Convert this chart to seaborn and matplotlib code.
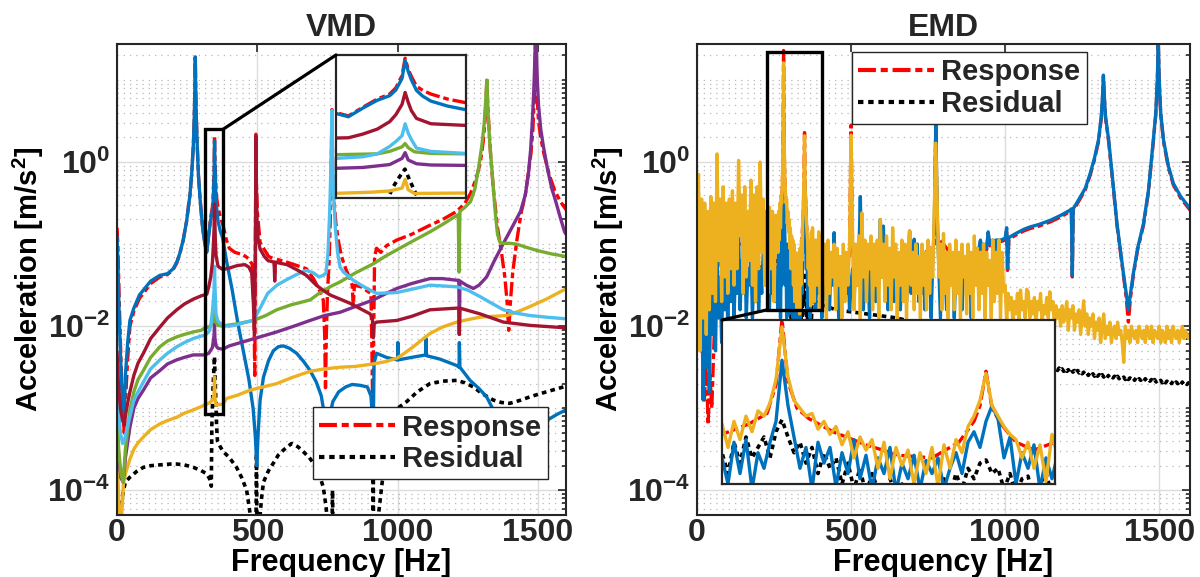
import numpy as np
import matplotlib
matplotlib.use("Agg")
import matplotlib.pyplot as plt
import seaborn as sns
from matplotlib.ticker import FixedLocator, LogLocator, FuncFormatter, NullFormatter, NullLocator
from matplotlib.patches import Rectangle, ConnectionPatch

# ---------------------------------------------------------------- axes data
titles = ["VMD", "EMD"]
legend_labels = ["Response", "Residual"]
x_ticks = [0, 500, 1000, 1500]
y_major = [1e-4, 1e-2, 1e0]
x_range = (0, 1600)
y_range = (5e-5, 27.5)

# zoom windows (frequency span, amplitude span)
vmd_zoom = (314, 377, 8.5e-4, 2.5)
emd_zoom_box = (227, 406, 0.0158, 21.9)
emd_zoom_view = (261, 372, 10 ** -1.8, 10 ** 1.34)

# ---------------------------------------------------------------- VMD spectra (log10 amplitude)
vmd_resp_f = [0, 3, 8, 14, 20, 26, 32, 38, 46, 60,
              80, 94, 120, 153, 180, 200, 213, 225, 236, 248,
              260, 266, 272, 275, 277, 278, 279, 280, 281, 283,
              286, 290, 296, 305, 314, 320, 327, 334, 340, 343,
              346, 347.5, 349, 350.5, 353, 356, 360, 368, 377, 390,
              400, 420, 450, 470, 482, 488, 491, 494, 495, 496.5,
              500, 510, 524, 540, 560, 562, 564, 606, 640, 675,
              700, 720, 735, 740, 743, 746, 750, 756, 760, 763,
              765, 766, 767, 769, 773, 780, 790, 800, 815, 830,
              838, 842, 846, 870, 895, 905, 909, 912, 915, 918,
              925, 940, 960, 997, 1050, 1115, 1160, 1211, 1240, 1260,
              1280, 1295, 1305, 1311, 1315, 1318, 1321, 1325, 1332, 1342,
              1356, 1370, 1382, 1390, 1396, 1402, 1410, 1425, 1440, 1455,
              1465, 1475, 1482, 1487, 1490, 1492, 1494, 1497, 1502, 1510,
              1520, 1540, 1560, 1580, 1600]
vmd_resp_lg = [-0.8, -1.0, -1.7, -2.4, -3.0, -3.3, -2.8, -2.4, -2.0, -1.82,
               -1.66, -1.6, -1.48, -1.4, -1.37, -1.31, -1.23, -1.1, -0.95, -0.72,
               -0.4, -0.15, 0.2, 0.5, 0.8, 1.0, 1.28, 1.0, 0.8, 0.5,
               0.2, -0.15, -0.45, -0.8, -1.0, -1.08, -0.87, -0.67, -0.55, -0.4,
               -0.1, 0.32, 0.05, -0.12, -0.36, -0.46, -0.55, -0.67, -0.76, -0.95,
               -1.05, -1.1, -1.13, -1.18, -1.25, -1.8, -2.6, -0.5, 0.34, -0.2,
               -0.6, -0.98, -1.06, -1.15, -1.18, -1.35, -1.18, -1.22, -1.26, -1.3,
               -1.42, -1.55, -1.68, -2.1, -2.75, -2.1, -1.6, -1.2, -0.7, -0.2,
               0.3, 0.64, 0.3, -0.1, -0.45, -0.75, -0.98, -1.15, -1.3, -1.42,
               -1.5, -1.75, -1.5, -1.52, -1.58, -1.6, -2.4, -3.4, -2.0, -1.15,
               -1.05, -1.1, -1.02, -0.95, -0.88, -0.77, -0.7, -0.6, -0.5, -0.38,
               -0.2, 0.0, 0.25, 0.5, 0.75, 1.02, 0.7, 0.45, 0.05, -0.36,
               -0.8, -1.1, -1.4, -1.7, -2.05, -1.7, -1.35, -0.95, -0.62, -0.4,
               -0.15, 0.1, 0.4, 0.8, 1.2, 1.6, 1.2, 0.8, 0.5, 0.3,
               0.12, -0.15, -0.35, -0.48, -0.58]

vmd_resid_f = [0, 10, 18, 23, 30, 46, 70, 94, 120, 153,
               190, 213, 240, 272, 300, 320, 330, 336, 338, 341.8,
               345, 347.4, 349.9, 352.3, 354.7, 358, 368, 379, 400, 426,
               445, 462, 475, 485, 495, 497, 499, 505, 515, 522,
               540, 557, 575, 593, 622, 645, 664, 685, 700, 720,
               735, 745, 755, 766, 768, 770, 900, 912, 913, 914,
               925, 945, 965, 987, 1000, 1032, 1070, 1115, 1160, 1211,
               1240, 1270, 1300, 1341, 1370, 1400, 1440, 1472, 1530, 1591,
               1600]
vmd_resid_lg = [-4.5, -4.4, -4.1, -4.0, -3.9, -3.84, -3.77, -3.72, -3.7, -3.69,
                -3.68, -3.68, -3.69, -3.72, -3.76, -3.8, -3.86, -3.95, -3.2, -2.79,
                -2.54, -2.37, -2.66, -2.92, -3.2, -3.4, -3.47, -3.53, -3.6, -3.72,
                -3.85, -4.0, -4.3, -4.6, -4.6, -3.55, -4.6, -4.5, -4.1, -3.9,
                -3.76, -3.67, -3.57, -3.51, -3.43, -3.47, -3.53, -3.6, -3.67, -3.8,
                -3.96, -4.2, -4.6, -4.6, -4.0, -4.6, -4.6, -4.6, -3.3, -4.6,
                -4.5, -3.9, -3.5, -3.16, -3.0, -2.92, -2.8, -2.70, -2.67, -2.66,
                -2.69, -2.74, -2.82, -2.90, -2.93, -2.94, -2.9, -2.86, -2.8, -2.74,
                -2.73]

vmd_m1_f = [0, 3, 8, 14, 20, 25, 30, 38, 46, 60,
            80, 94, 120, 153, 180, 200, 213, 225, 236, 248,
            260, 266, 272, 275, 277, 278, 279, 280, 281, 283,
            286, 290, 296, 305, 314, 320, 327, 334, 340, 343,
            346, 347.5, 349, 350.5, 353, 356, 360, 368, 377, 390,
            410, 430, 450, 470, 485, 493, 498, 503, 510, 522,
            540, 557, 575, 593, 615, 640, 665, 688, 710, 728,
            740, 746, 749, 752, 758, 769, 790, 815, 838, 865,
            892, 905, 910, 913, 916, 925, 960, 997, 1000, 1001,
            1003, 1050, 1100, 1101, 1103, 1150, 1211, 1219, 1220, 1222,
            1240, 1258, 1290, 1317, 1329, 1360, 1390, 1420, 1450, 1480,
            1510, 1531, 1565, 1600]
vmd_m1_lg = [-0.9, -1.2, -1.9, -2.5, -3.0, -3.15, -2.6, -2.2, -1.93, -1.78,
             -1.62, -1.56, -1.45, -1.38, -1.36, -1.3, -1.22, -1.1, -0.95, -0.72,
             -0.4, -0.15, 0.2, 0.5, 0.8, 1.0, 1.28, 1.0, 0.8, 0.5,
             0.2, -0.15, -0.45, -0.8, -1.02, -1.1, -0.89, -0.7, -0.59, -0.45,
             -0.17, 0.26, 0.0, -0.2, -0.46, -0.6, -0.72, -0.84, -0.93, -1.2,
             -1.55, -1.95, -2.3, -2.65, -3.0, -3.35, -3.7, -3.3, -2.9, -2.62,
             -2.42, -2.3, -2.25, -2.24, -2.27, -2.33, -2.43, -2.54, -2.68, -2.85,
             -3.1, -3.4, -3.8, -3.4, -3.1, -2.92, -2.8, -2.74, -2.71, -2.72,
             -2.74, -2.85, -3.1, -3.3, -2.45, -2.33, -2.38, -2.41, -2.41, -2.2,
             -2.41, -2.38, -2.35, -2.15, -2.36, -2.4, -2.48, -2.5, -2.2, -2.5,
             -2.58, -2.66, -2.76, -2.86, -2.94, -3.15, -3.4, -3.6, -3.5, -3.35,
             -3.22, -3.15, -3.08, -3.02]

vmd_m2_f = [0, 4, 9, 15, 23, 30, 46, 60, 75, 94,
            120, 153, 180, 213, 240, 272, 300, 331, 340, 346,
            347.5, 349, 352, 377, 391, 430, 474, 520, 569, 620,
            688, 740, 795, 850, 913, 960, 997, 1020, 1056, 1085,
            1115, 1160, 1211, 1250, 1294, 1340, 1389, 1430, 1472, 1530,
            1591, 1600]
vmd_m2_lg = [-3.45, -3.9, -4.4, -4.4, -3.92, -3.8, -3.62, -3.5, -3.42, -3.35,
             -3.26, -3.19, -3.15, -3.11, -3.06, -3.02, -2.98, -2.93, -2.9, -2.83,
             -2.62, -2.87, -2.96, -2.95, -2.88, -2.84, -2.78, -2.74, -2.70, -2.63,
             -2.55, -2.52, -2.50, -2.49, -2.46, -2.43, -2.39, -2.34, -2.25, -2.17,
             -2.09, -2.01, -1.95, -1.92, -1.89, -1.88, -1.87, -1.82, -1.76, -1.67,
             -1.56, -1.55]

vmd_m3_f = [0, 6, 14, 22, 30, 46, 60, 75, 94, 120,
            153, 180, 213, 240, 272, 314, 327, 340, 346, 347.5,
            349, 353, 360, 377, 400, 450, 510, 569, 630, 688,
            740, 795, 850, 913, 960, 997, 1050, 1115, 1160, 1211,
            1218, 1220, 1222, 1245, 1270, 1290, 1317, 1345, 1377, 1410,
            1438, 1455, 1466, 1474, 1480, 1485, 1488, 1490, 1492, 1494,
            1497, 1502, 1510, 1520, 1535, 1550, 1561, 1580, 1595, 1600]
vmd_m3_lg = [-3.3, -3.6, -3.85, -3.9, -3.6, -3.23, -3.0, -2.88, -2.78, -2.63,
             -2.54, -2.46, -2.41, -2.38, -2.35, -2.35, -2.33, -2.26, -2.11, -1.97,
             -2.15, -2.24, -2.27, -2.28, -2.24, -2.19, -2.13, -2.07, -2.0, -1.93,
             -1.87, -1.83, -1.76, -1.68, -1.6, -1.54, -1.48, -1.42, -1.42, -1.44,
             -1.44, -2.1, -1.45, -1.5, -1.54, -1.5, -1.40, -1.2, -0.99, -0.78,
             -0.6, -0.4, -0.15, 0.15, 0.5, 0.85, 1.15, 1.4, 1.7, 1.4,
             1.05, 0.7, 0.4, 0.18, -0.1, -0.33, -0.45, -0.68, -0.85, -0.88]

vmd_m4_f = [0, 6, 14, 22, 30, 46, 60, 75, 94, 120,
            153, 180, 213, 240, 272, 300, 314, 334, 340, 346,
            347.5, 349, 352, 360, 377, 391, 430, 486, 530, 569,
            620, 688, 720, 759, 795, 850, 913, 960, 997, 1050,
            1115, 1160, 1211, 1216, 1219, 1222, 1240, 1260, 1275, 1288,
            1300, 1308, 1313, 1316, 1318, 1320, 1323, 1328, 1335, 1342,
            1349, 1356, 1365, 1377, 1400, 1424, 1460, 1500, 1550, 1600]
vmd_m4_lg = [-3.0, -3.5, -3.8, -3.9, -3.5, -3.02, -2.8, -2.65, -2.54, -2.38,
             -2.25, -2.18, -2.13, -2.1, -2.07, -2.05, -2.02, -2.0, -1.94, -1.83,
             -1.75, -1.85, -1.95, -1.99, -2.0, -1.99, -1.97, -1.93, -1.87, -1.8,
             -1.74, -1.68, -1.6, -1.52, -1.46, -1.35, -1.24, -1.14, -1.07, -0.97,
             -0.85, -0.76, -0.65, -0.64, -1.34, -0.6, -0.55, -0.48, -0.33, -0.08,
             0.2, 0.45, 0.7, 0.88, 1.0, 0.8, 0.55, 0.25, -0.05, -0.36,
             -0.65, -0.88, -0.98, -0.99, -0.99, -1.0, -1.04, -1.08, -1.12, -1.15]

vmd_m5_f = [0, 5, 12, 20, 26, 32, 46, 60, 75, 94,
            120, 153, 180, 213, 240, 272, 300, 314, 327, 334,
            340, 343, 346, 347.5, 349, 350.5, 353, 360, 377, 400,
            430, 460, 486, 510, 537, 570, 606, 640, 674, 700,
            720, 735, 745, 752, 758, 762, 764, 766, 768, 772,
            778, 786, 795, 807, 842, 870, 902, 925, 997, 1050,
            1115, 1211, 1250, 1294, 1340, 1377, 1420, 1472, 1530, 1600]
vmd_m5_lg = [-2.7, -3.0, -3.3, -3.43, -3.4, -3.3, -3.1, -2.9, -2.8, -2.68,
             -2.52, -2.41, -2.33, -2.25, -2.2, -2.15, -2.12, -2.11, -2.07, -2.0,
             -1.82, -1.7, -1.56, -1.27, -1.5, -1.65, -1.86, -1.94, -1.99, -2.0,
             -1.98, -1.95, -1.93, -1.78, -1.6, -1.5, -1.43, -1.37, -1.32, -1.35,
             -1.4, -1.38, -1.35, -1.1, -0.6, -0.1, 0.25, 0.63, 0.1, -0.4,
             -0.8, -1.1, -1.28, -1.34, -1.44, -1.5, -1.56, -1.6, -1.59, -1.55,
             -1.5, -1.52, -1.56, -1.64, -1.73, -1.8, -1.84, -1.87, -1.89, -1.91]

vmd_m6_f = [0, 5, 12, 20, 26, 32, 40, 46, 60, 75,
            94, 120, 153, 180, 213, 240, 272, 300, 320, 327,
            334, 340, 343, 346, 347.5, 349, 350.5, 353, 360, 377,
            401, 430, 456, 470, 480, 486, 490, 492, 494, 495,
            496.5, 499, 503, 510, 525, 538, 560, 562, 564, 606,
            640, 675, 710, 742, 760, 830, 902, 910, 913, 916,
            925, 997, 1050, 1115, 1211, 1218, 1220, 1222, 1294, 1377,
            1472, 1600]
vmd_m6_lg = [-2.3, -2.7, -3.0, -3.15, -3.2, -3.05, -2.9, -2.8, -2.6, -2.45,
             -2.33, -2.15, -2.01, -1.9, -1.8, -1.73, -1.67, -1.63, -1.61, -1.52,
             -1.4, -1.22, -1.05, -0.8, -0.51, -0.75, -0.95, -1.14, -1.27, -1.31,
             -1.29, -1.26, -1.25, -1.28, -1.35, -1.72, -2.1, -1.5, -0.5, 0.32,
             -0.3, -0.7, -0.95, -1.06, -1.15, -1.2, -1.22, -1.45, -1.22, -1.25,
             -1.31, -1.38, -1.5, -1.58, -1.62, -1.72, -1.85, -1.9, -2.14, -1.97,
             -1.95, -1.93, -1.88, -1.80, -1.78, -1.78, -2.1, -1.78, -1.85, -1.95,
             -1.99, -2.02]

# ---------------------------------------------------------------- EMD spectra (log10 amplitude)
emd_f_lo = np.arange(0, 256, 5)        # 0 .. 255 Hz
emd_f_mid = np.arange(261, 374, 2)     # 261 .. 373 Hz
emd_f_hi = np.arange(375, 1601, 5)     # 375 .. 1600 Hz
emd_f_hi_m1 = np.arange(375, 916, 5)   # 375 .. 915 Hz
emd_f_resid_tail = np.arange(1005, 1601, 5)   # 1005 .. 1600 Hz

emd_m2_lo = [-0.4, -0.15, -2.3, -0.45, -1.9, -0.5, -2.1, -0.6, -1.8, -0.42,
             -1.6, -0.5, -1.7, 0.1, -1.2, -0.45, -1.7, -0.3, -1.4, -0.5,
             -1.6, -0.45, -1.3, -0.35, -1.5, -0.5, -1.3, 0.02, -0.9, -0.4,
             -1.6, -0.3, -1.4, -0.6, -1.2, -0.22, -1.5, -0.4, -1.7, -0.3,
             -1.3, 0.0, -1.1, -0.45, -1.5, -0.6, -1.6, -0.55, -1.3, -0.6,
             -1.7, -0.65]
emd_m2_mid = [-0.65, -1.1, -0.6, -0.95, -0.5, -0.8, -0.4, -0.5, -0.25, 0.2,
              1.21, 0.25, -0.2, -0.35, -0.5, -0.45, -0.75, -0.6, -0.85, -0.7,
              -1.05, -0.8, -1.3, -0.9, -1.15, -0.95, -1.5, -1.0, -1.7, -1.1,
              -1.45, -1.15, -1.8, -1.2, -1.6, -1.1, -1.85, -1.05, -1.5, -0.95,
              -1.2, -0.7, -0.5, -0.2, 0.32, -0.3, -0.5, -0.7, -0.85, -0.95,
              -1.3, -1.0, -1.5, -1.05, -1.75, -0.85, -1.3]
emd_m2_hi = [-0.8, -1.7, -0.95, -1.5, -0.85, -1.8, -0.9, -1.3, -1.0, -1.9,
             -0.95, -1.6, -1.1, -1.4, -1.0, -1.8, -1.05, -1.5, -1.15, -1.9,
             -1.0, -1.7, -1.1, -1.5, -1.0, 0.33, -0.9, -1.8, -1.0, -1.5,
             -0.9, -1.9, -0.62, -1.4, -0.95, -1.7, -1.0, -1.3, -0.9, -1.8,
             -1.0, -1.5, -0.95, -1.9, -0.70, -1.4, -1.0, -1.7, -0.9, -1.5,
             -1.05, -1.8, -0.8, -1.4, -1.0, -1.9, -1.1, -1.5, -0.95, -1.7,
             -1.0, -1.9, -1.05, -0.84, -1.5, -1.1, -1.8, -1.0, -1.6, -1.15,
             -1.9, -1.0, -1.5, -1.1, -1.8, -0.95, -1.6, -1.05, -1.4, -0.6,
             0.23, -0.6, -1.4, -1.0, -1.8, -0.87, -1.6, -1.1, -1.9, -1.0,
             -1.5, -1.1, -1.8, -0.95, -1.6, -1.1, -1.9, -1.0, -1.4, -1.15,
             -1.85, -1.0, -1.6, -1.1, -1.9, -0.9, -1.5, -1.05, -1.8, -1.1,
             -1.6, -1.0, -1.9, -1.1, -1.5, -1.2, -1.9, -0.95, -1.7, -1.1,
             -1.6, -0.95, -1.9, -1.1, -1.58, -1.5, -1.95, -1.6, -1.8, -1.65,
             -1.95, -1.7, -1.85, -1.6, -1.95, -1.56, -1.8, -1.7, -1.9, -1.55,
             -1.58, -1.9, -1.7, -1.85, -1.65, -2.0, -1.7, -1.8, -1.6, -1.95,
             -1.75, -1.85, -1.65, -1.9, -1.58, -1.8, -1.7, -2.0, -1.75, -1.9,
             -1.8, -2.0, -1.75, -1.95, -1.85, -1.7, -2.05, -1.8, -1.9, -1.75,
             -2.05, -1.85, -1.95, -1.8, -2.1, -1.9, -1.69, -2.0, -1.85, -2.1,
             -1.9, -2.0, -1.85, -2.15, -1.95, -2.05, -1.9, -2.2, -2.0, -1.85,
             -2.15, -2.0, -2.1, -1.95, -2.2, -2.05, -2.0, -2.15, -1.95, -2.1,
             -2.05, -2.2, -2.44, -2.0, -2.15, -2.05, -2.2, -2.0, -2.1, -2.15,
             -2.05, -2.2, -2.0, -2.1, -2.15, -2.05, -2.2, -2.0, -2.1, -2.15,
             -2.0, -2.2, -2.05, -2.1, -2.15, -2.0, -2.2, -2.05, -2.1, -2.2,
             -2.0, -2.15, -2.05, -2.2, -2.0, -2.1, -2.15, -2.05, -2.2, -2.1,
             -2.0, -2.15, -2.05, -2.1, -2.15, -2.1]

emd_m1_lo = [-0.5, -1.2, -2.0, -1.4, -2.9, -1.6, -2.5, -1.5, -2.8, -1.4,
             -2.1, -1.3, -2.3, -1.2, -1.9, -1.4, -2.2, -1.1, -1.8, -1.3,
             -2.0, -1.2, -1.7, -1.0, -1.9, -1.3, -1.6, -0.9, -1.8, -1.2,
             -1.6, -1.0, -1.9, -1.3, -1.5, -1.1, -1.9, -1.2, -1.7, -1.0,
             -1.8, -1.3, -1.6, -1.1, -0.73, -1.5, -1.2, -1.8, -1.1, -1.6,
             -1.3, -1.7]
emd_m1_mid = [-1.3, -1.8, -1.0, -1.6, -0.95, -1.9, -1.2, -1.5, -1.0, -0.6,
              0.57, -0.3, -0.9, -1.5, -1.1, -1.9, -1.0, -1.4, -1.1, -1.85,
              -1.2, -1.6, -0.95, -1.7, -1.25, -1.9, -1.3, -1.6, -1.1, -1.95,
              -1.4, -1.7, -1.25, -1.9, -1.35, -1.6, -1.3, -1.9, -1.5, -1.2,
              -1.6, -1.0, -0.8, -1.1, -0.6, -0.3, -0.55, -1.3, -0.9, -1.8,
              -1.2, -1.5, -1.05, -1.9, -1.3, -1.7, -1.2]
emd_m1_hi = [-1.5, -1.2, -1.8, -1.3, -1.6, -1.1, -1.9, -1.4, -1.2, -1.7,
             -1.3, -1.8, -1.2, -1.5, -0.86, -1.6, -1.3, -1.9, -1.4, -1.2,
             -1.7, -1.3, -1.6, -1.2, -1.8, -1.5, -1.3, -1.7, -1.1, -1.5,
             -1.2, -0.42, -1.4, -1.8, -1.2, -1.6, -1.3, -1.9, -1.1, -1.5,
             -1.3, -1.7, -1.2, -1.5, -0.7, -1.4, -0.78, -1.6, -1.2, -1.8,
             -1.3, -1.5, -1.1, -1.7, -1.2, -1.6, -1.3, -1.8, -1.1, -1.5,
             -1.2, -1.7, -1.3, -0.84, -1.6, -1.2, -0.94, -1.5, -1.0, -1.7,
             -1.3, -1.6, -1.2, -1.8, -1.1, -1.5, -1.3, -1.9, -1.2, -0.8,
             0.47, -0.7, -1.3, -1.9, -1.2, -1.4, -1.25, -1.8, -1.3, -1.2,
             -1.45, -1.2, -1.9, -1.3, -1.25, -1.4, -1.2, -1.8, -1.3, -1.35,
             -1.2, -1.45, -1.25, -1.9, -1.3, -1.2, -1.4, -1.1, -1.05]

emd_tail_f = [920, 925, 930, 940, 945, 950, 960, 965, 970, 985,
              1000, 1005, 1008, 1012, 1030, 1060, 1081, 1110, 1146, 1180,
              1211, 1215, 1218, 1221, 1240, 1260, 1276, 1290, 1303, 1312,
              1316, 1319, 1322, 1326, 1336, 1350, 1363, 1375, 1384, 1393,
              1400, 1407, 1416, 1430, 1449, 1465, 1481, 1489, 1494, 1497,
              1500, 1505, 1514, 1530, 1546, 1570, 1600]
emd_m1_tail = [-0.95, -1.3, -1.0, -1.05, -0.85, -1.0, -0.95, -1.2, -0.95, -0.95,
               -0.93, -0.8, -1.3, -0.92, -0.88, -0.82, -0.79, -0.76, -0.71, -0.65,
               -0.585, -0.57, -1.38, -0.57, -0.45, -0.32, -0.14, 0.05, 0.27, 0.55,
               0.8, 1.06, 0.8, 0.55, 0.27, -0.25, -0.75, -1.1, -1.36, -1.6,
               -1.8, -1.6, -1.36, -1.05, -0.75, -0.35, 0.27, 0.6, 1.0, 1.5,
               1.0, 0.6, 0.27, -0.05, -0.26, -0.42, -0.565]
emd_resp_tail = [-0.97, -1.32, -1.02, -1.07, -0.87, -1.02, -0.97, -1.22, -0.97, -0.97,
                 -0.95, -0.82, -1.32, -0.94, -0.9, -0.84, -0.81, -0.78, -0.73, -0.67,
                 -0.6, -0.59, -1.4, -0.59, -0.47, -0.34, -0.16, 0.03, 0.25, 0.53,
                 0.78, 1.04, 0.78, 0.53, 0.25, -0.27, -0.77, -1.12, -1.38, -1.65,
                 -1.95, -1.65, -1.38, -1.07, -0.77, -0.37, 0.25, 0.58, 0.98, 1.48,
                 0.98, 0.58, 0.25, -0.07, -0.28, -0.44, -0.585]

emd_resp_f = [0, 4, 8, 12, 18, 24, 30, 36, 42, 48,
              55, 62, 70, 100, 150, 200, 250, 261, 270, 276,
              279, 281, 283, 286, 290, 298, 309, 320, 331, 340,
              345, 347, 349, 351, 354, 359, 365, 372, 380, 450,
              495, 500, 505, 600, 700, 770, 775, 780, 850, 915]
emd_resp_lg = [-0.45, -0.6, -1.6, -2.3, -2.0, -2.9, -2.4, -3.2, -2.6, -3.0,
               -2.2, -1.6, -1.2, -1.0, -1.0, -1.0, -0.9, -0.85, -0.65, -0.45,
               0.1, 1.36, 0.15, -0.35, -0.55, -0.8, -1.05, -1.25, -1.3, -1.0,
               -0.6, -0.3, 0.36, -0.35, -0.65, -1.0, -1.15, -1.0, -1.1, -1.2,
               -1.2, 0.45, -1.1, -1.2, -1.25, -1.0, 0.42, -0.9, -1.25, -1.1]

emd_resid_lo_f = [0, 2, 4, 6, 8, 10, 15, 25, 50, 100, 150, 200, 240, 255]
emd_resid_lo = [-0.25, -0.2, -0.3, -1.2, -1.9, -2.0, -1.7, -1.6, -1.5, -1.4,
                -1.3, -1.3, -1.2, -1.2]
emd_resid_mid = [-1.2, -1.6, -1.0, -1.4, -0.9, -1.3, -1.1, -0.9, -1.3, -0.8,
                 -0.57, -0.9, -1.2, -1.0, -1.4, -1.1, -1.6, -1.2, -1.5, -1.3,
                 -1.8, -1.4, -1.9, -1.5, -2.0, -1.6, -1.9, -2.1, -1.7, -2.0,
                 -1.8, -2.2, -1.9, -1.85, -2.1, -1.9, -2.2, -1.7, -2.0, -1.6,
                 -1.9, -1.5, -1.7, -1.4, -1.34, -1.6, -1.5, -1.9, -1.6, -2.0,
                 -1.7, -1.65, -2.1, -1.8, -1.6, -2.0, -1.7]
emd_resid_hi_f = [380, 450, 550, 650, 750, 850, 950, 1000]
emd_resid_hi = [-1.7, -1.8, -1.85, -1.9, -2.0, -2.1, -2.25, -2.33]
emd_resid_tail = [-2.32, -2.36, -2.33, -2.38, -2.35, -2.39, -2.37, -2.41, -2.39, -2.43,
                  -2.41, -2.45, -2.42, -2.46, -2.43, -2.47, -2.44, -2.48, -2.45, -2.49,
                  -2.46, -2.49, -2.47, -2.50, -2.48, -2.51, -2.48, -2.52, -2.49, -2.52,
                  -2.50, -2.53, -2.51, -2.54, -2.51, -2.54, -2.52, -2.55, -2.52, -2.55,
                  -2.53, -2.56, -2.53, -2.56, -2.54, -2.57, -2.54, -2.57, -2.55, -2.58,
                  -2.56, -2.59, -2.57, -2.60, -2.57, -2.60, -2.58, -2.61, -2.58, -2.61,
                  -2.59, -2.62, -2.59, -2.62, -2.60, -2.63, -2.60, -2.63, -2.61, -2.63,
                  -2.61, -2.64, -2.61, -2.64, -2.62, -2.64, -2.62, -2.65, -2.62, -2.65,
                  -2.63, -2.65, -2.63, -2.66, -2.63, -2.66, -2.64, -2.66, -2.64, -2.67,
                  -2.64, -2.67, -2.65, -2.67, -2.65, -2.68, -2.65, -2.68, -2.66, -2.68,
                  -2.66, -2.69, -2.66, -2.69, -2.67, -2.69, -2.67, -2.70, -2.67, -2.70,
                  -2.68, -2.70, -2.68, -2.71, -2.68, -2.71, -2.69, -2.71, -2.69, -2.72]

# ---------------------------------------------------------------- style
sns.set_theme(style="white")
plt.rcParams.update({
    "font.family": ["Liberation Sans", "DejaVu Sans"],
    "font.weight": "bold",
    "axes.labelweight": "bold",
    "axes.titleweight": "bold",
    "mathtext.fontset": "custom",
    "mathtext.rm": "Liberation Sans:bold",
    "mathtext.bf": "Liberation Sans:bold",
    "mathtext.it": "Liberation Sans:bold:italic",
    "mathtext.sf": "Liberation Sans:bold",
    "lines.solid_capstyle": "butt",
})

C_RESP, C_RESID = "#FF0000", "#000000"
C_BLUE, C_YEL, C_PUR = "#0072BD", "#EDB120", "#7E2F8E"
C_GRN, C_LBL, C_MAR = "#77AC30", "#4DBEEE", "#A2142F"
INK = "#262626"
LW = 2.4
LS_RESP = (0, (4.3, 1.15, 1.7, 1.15))
LS_RESID = (0, (1.3, 1.15))


def trace(ax, f, lg, color, ls="-", lw=LW):
    sns.lineplot(x=np.asarray(f, dtype=float), y=np.power(10.0, np.asarray(lg, dtype=float)),
                 ax=ax, color=color, linewidth=lw, linestyle=ls,
                 estimator=None, sort=False, legend=False)
    return ax.lines[-1]


def decade_label(v, pos):
    return r"$\mathbf{10^{%d}}$" % int(round(np.log10(v)))


def style_main(ax, title):
    ax.set_yscale("log")
    ax.set_xlim(*x_range)
    ax.set_ylim(*y_range)
    ax.xaxis.set_major_locator(FixedLocator(x_ticks))
    ax.yaxis.set_major_locator(FixedLocator(y_major))
    ax.yaxis.set_major_formatter(FuncFormatter(decade_label))
    ax.yaxis.set_minor_locator(LogLocator(base=10, subs=np.arange(1, 10), numticks=60))
    ax.yaxis.set_minor_formatter(NullFormatter())
    ax.tick_params(which="both", direction="in", top=True, right=True,
                   labelsize=23, colors=INK, width=1.2)
    ax.tick_params(which="major", length=6)
    ax.tick_params(axis="x", which="major", pad=2)
    ax.tick_params(axis="y", which="major", pad=5)
    ax.tick_params(which="minor", length=3)
    ax.grid(which="major", color="#dcdcdc", linewidth=1.0, linestyle="-")
    ax.grid(which="minor", axis="y", color="#b8b8b8", linewidth=0.9, linestyle=(0, (1, 4)))
    ax.set_axisbelow(True)
    for s in ax.spines.values():
        s.set_linewidth(1.5)
        s.set_color(INK)
    ax.set_xlabel("Frequency [Hz]", fontsize=22, color="black", labelpad=0)
    ax.set_ylabel("Acceleration [m/s$^2$]", fontsize=21, color="black")
    ax.set_title(title, fontsize=23, fontweight="bold", pad=6)


def style_inset(ax, xl, yl):
    ax.set_yscale("log")
    ax.set_xlim(*xl)
    ax.set_ylim(*yl)
    ax.set_xticks([])
    ax.set_yticks([])
    ax.yaxis.set_minor_locator(NullLocator())
    ax.set_facecolor("white")
    ax.grid(False)
    for s in ax.spines.values():
        s.set_linewidth(1.6)
        s.set_color(INK)
        s.set_visible(True)


def draw_vmd(ax):
    r = trace(ax, vmd_resp_f, vmd_resp_lg, C_RESP, ls=LS_RESP)
    k = trace(ax, vmd_resid_f, vmd_resid_lg, C_RESID, ls=LS_RESID, lw=2.6)
    trace(ax, vmd_m1_f, vmd_m1_lg, C_BLUE)
    trace(ax, vmd_m2_f, vmd_m2_lg, C_YEL)
    trace(ax, vmd_m3_f, vmd_m3_lg, C_PUR)
    trace(ax, vmd_m4_f, vmd_m4_lg, C_GRN)
    trace(ax, vmd_m5_f, vmd_m5_lg, C_LBL)
    trace(ax, vmd_m6_f, vmd_m6_lg, C_MAR)
    return r, k


def draw_emd(ax):
    resp_f = np.concatenate([emd_resp_f, emd_tail_f])
    resp_lg = np.concatenate([emd_resp_lg, emd_resp_tail])
    resid_f = np.concatenate([emd_resid_lo_f, emd_f_mid, emd_resid_hi_f, emd_f_resid_tail])
    resid_lg = np.concatenate([emd_resid_lo, emd_resid_mid, emd_resid_hi, emd_resid_tail])
    m1_f = np.concatenate([emd_f_lo, emd_f_mid, emd_f_hi_m1, emd_tail_f])
    m1_lg = np.concatenate([emd_m1_lo, emd_m1_mid, emd_m1_hi, emd_m1_tail])
    m2_f = np.concatenate([emd_f_lo, emd_f_mid, emd_f_hi])
    m2_lg = np.concatenate([emd_m2_lo, emd_m2_mid, emd_m2_hi])
    r = trace(ax, resp_f, resp_lg, C_RESP, ls=LS_RESP)
    k = trace(ax, resid_f, resid_lg, C_RESID, ls=LS_RESID, lw=2.6)
    trace(ax, m1_f, m1_lg, C_BLUE)
    trace(ax, m2_f, m2_lg, C_YEL)
    return r, k


def add_legend(ax, handles, anchor, loc):
    leg = ax.legend(handles=handles, labels=legend_labels, loc=loc, bbox_to_anchor=anchor,
                    fontsize=21, frameon=True, fancybox=False, framealpha=1.0,
                    edgecolor=INK, borderaxespad=0.0, handlelength=2.6,
                    handletextpad=0.25, labelspacing=0.12, borderpad=0.22)
    leg.get_frame().set_linewidth(1.0)
    for ln in leg.get_lines():
        ln.set_linewidth(3.0)
    return leg


# ---------------------------------------------------------------- figure
fig = plt.figure(figsize=(12, 5.77), dpi=100, facecolor="white")
H = 577.0
ax_vmd = fig.add_axes([117 / 1200, (H - 515) / H, 449 / 1200, 471 / H])
style_main(ax_vmd, titles[0])
h_resp, h_resid = draw_vmd(ax_vmd)
ax_vmd.yaxis.set_label_coords(-0.158, 0.5)
add_legend(ax_vmd, [h_resp, h_resid], (0.96, 0.229), "upper right")

x0, x1, y0, y1 = vmd_zoom
ax_vmd.add_patch(Rectangle((x0, y0), x1 - x0, y1 - y0, fill=False, ec="black", lw=2.4, zorder=6))

ins_vmd = fig.add_axes([336 / 1200, (H - 198) / H, 130 / 1200, 143 / H])
draw_vmd(ins_vmd)
style_inset(ins_vmd, (x0, x1), (y0, y1))
fig.add_artist(ConnectionPatch(xyA=(x1, y1), coordsA="data", axesA=ax_vmd,
                               xyB=(0, 1), coordsB="axes fraction", axesB=ins_vmd,
                               color="black", lw=2.3))

ax_emd = fig.add_axes([697 / 1200, (H - 515) / H, 493 / 1200, 471 / H])
style_main(ax_emd, titles[1])
e_resp, e_resid = draw_emd(ax_emd)
ax_emd.yaxis.set_label_coords(-0.144, 0.5)
add_legend(ax_emd, [e_resp, e_resid], (0.314, 0.983), "upper left")

bx0, bx1, by0, by1 = emd_zoom_box
ax_emd.add_patch(Rectangle((bx0, by0), bx1 - bx0, by1 - by0, fill=False, ec="black", lw=2.4, zorder=6))

ins_emd = fig.add_axes([722 / 1200, (H - 484) / H, 333 / 1200, 164 / H])
draw_emd(ins_emd)
vx0, vx1, vy0, vy1 = emd_zoom_view
style_inset(ins_emd, (vx0, vx1), (vy0, vy1))
fig.add_artist(ConnectionPatch(xyA=(bx0, by0), coordsA="data", axesA=ax_emd,
                               xyB=(0, 1), coordsB="axes fraction", axesB=ins_emd,
                               color="black", lw=2.3))

fig.savefig("out.png", dpi=100, facecolor="white")
